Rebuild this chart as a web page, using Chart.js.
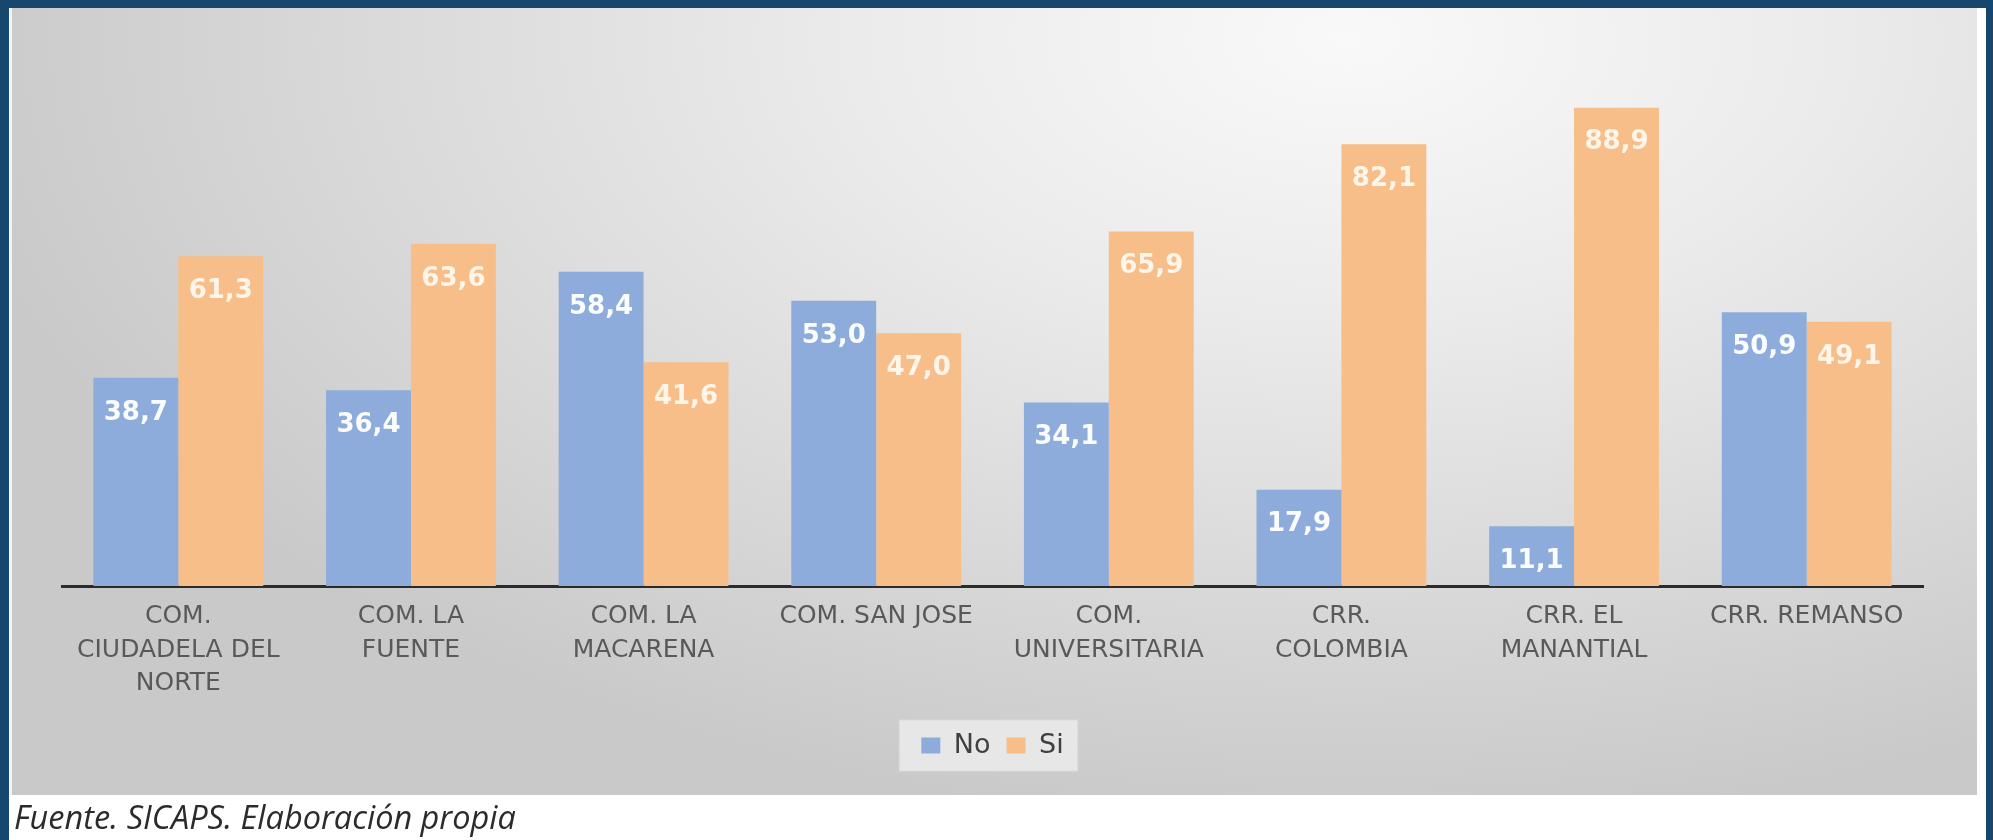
<!DOCTYPE html>
<html>
<head>
<meta charset="utf-8">
<script src="https://cdn.jsdelivr.net/npm/chart.js@4.4.1/dist/chart.umd.min.js"></script>
<style>
  html, body { margin: 0; padding: 0; }
  body { width: 1993px; height: 840px; background: #16486f; position: relative; overflow: hidden; }
  #hoja { position: absolute; left: 9px; top: 8px; width: 1977px; height: 832px; background: #fff; }
  #panel {
    position: absolute; left: 10px; top: 8px; width: 1967px; height: 787px;
    background: radial-gradient(ellipse 72% 100% at 68% 4%, #f9f9f9 0%, #ebebeb 35%, #d9d9d9 70%, #c9c9c9 100%);
    box-shadow: inset 2px 0 0 #f2f2f2;
  }
  #fuente {
    position: absolute; left: 14px; top: 794px;
    font: italic 32.5px "Open Sans", sans-serif; color: #2b2b2b;
  }
</style>
</head>
<body>
<div id="hoja"></div>
<div id="panel"><canvas id="grafico"></canvas></div>
<div id="fuente">Fuente. SICAPS. Elaboración propia</div>

<script>
const categorias = [
  ["COM.", "CIUDADELA DEL", "NORTE"],
  ["COM. LA", "FUENTE"],
  ["COM. LA", "MACARENA"],
  "COM. SAN JOSE",
  ["COM.", "UNIVERSITARIA"],
  ["CRR.", "COLOMBIA"],
  ["CRR. EL", "MANANTIAL"],
  "CRR. REMANSO"
];
const valoresNo = [38.7, 36.4, 58.4, 53.0, 34.1, 17.9, 11.1, 50.9];
const valoresSi = [61.3, 63.6, 41.6, 47.0, 65.9, 82.1, 88.9, 49.1];

// etiquetas blancas dentro de cada barra, cerca del borde superior
const etiquetasBarras = {
  id: "etiquetasBarras",
  afterDatasetsDraw(chart) {
    const ctx = chart.ctx;
    ctx.save();
    ctx.font = "bold 26px 'DejaVu Sans'";
    ctx.textAlign = "center";
    ctx.textBaseline = "middle";
    chart.data.datasets.forEach((ds, i) => {
      ctx.fillStyle = i === 0 ? "rgba(255,255,255,0.96)" : "rgba(255,248,238,0.95)";
      chart.getDatasetMeta(i).data.forEach((barra, j) => {
        const txt = ds.data[j].toFixed(1).replace(".", ",");
        ctx.fillText(txt, barra.x, barra.y + 35);
      });
    });
    ctx.restore();
  }
};

// recuadro claro detrás de la leyenda
const fondoLeyenda = {
  id: "fondoLeyenda",
  beforeDraw(chart) {
    const cajas = chart.legend && chart.legend.legendHitBoxes;
    if (!cajas || !cajas.length) return;
    let x1 = Infinity, x2 = -Infinity, y1 = Infinity, y2 = -Infinity;
    cajas.forEach(c => {
      x1 = Math.min(x1, c.left); x2 = Math.max(x2, c.left + c.width);
      y1 = Math.min(y1, c.top); y2 = Math.max(y2, c.top + c.height);
    });
    const ctx = chart.ctx;
    ctx.save();
    ctx.fillStyle = "#e7e7e7";
    ctx.strokeStyle = "#dcdcdc";
    ctx.lineWidth = 1;
    ctx.fillRect(x1 - 22, y1 - 12, x2 - x1 + 36, y2 - y1 + 24);
    ctx.strokeRect(x1 - 22, y1 - 12, x2 - x1 + 36, y2 - y1 + 24);
    ctx.restore();
  }
};

const ctx = document.getElementById("grafico").getContext("2d");
new Chart(ctx, {
  type: "bar",
  data: {
    labels: categorias,
    datasets: [
      { label: "No", data: valoresNo, backgroundColor: "#8eacdb" },
      { label: "Si", data: valoresSi, backgroundColor: "#f7be8a" }
    ]
  },
  options: {
    responsive: true,
    maintainAspectRatio: false,
    animation: false,
    events: [],
    datasets: { bar: { categoryPercentage: 0.73, barPercentage: 1.0 } },
    layout: { padding: { top: 40, left: 52, right: 54, bottom: 26 } },
    scales: {
      y: { display: false, min: 0, max: 100 },
      x: {
        grid: { display: false, drawTicks: false },
        border: { display: true, color: "#2b2b2b", width: 3 },
        ticks: {
          color: "#595959",
          font: { family: "'DejaVu Sans'", size: 25, lineHeight: 1.34 },
          padding: 14,
          maxRotation: 0,
          autoSkip: false
        },
        afterFit(scale) { scale.height = 130; }
      }
    },
    plugins: {
      legend: {
        position: "bottom",
        labels: {
          color: "#404040",
          font: { family: "'DejaVu Sans'", size: 27 },
          boxWidth: 19,
          boxHeight: 16,
          padding: 16
        }
      },
      tooltip: { enabled: false }
    }
  },
  plugins: [fondoLeyenda, etiquetasBarras]
});
</script>
</body>
</html>
